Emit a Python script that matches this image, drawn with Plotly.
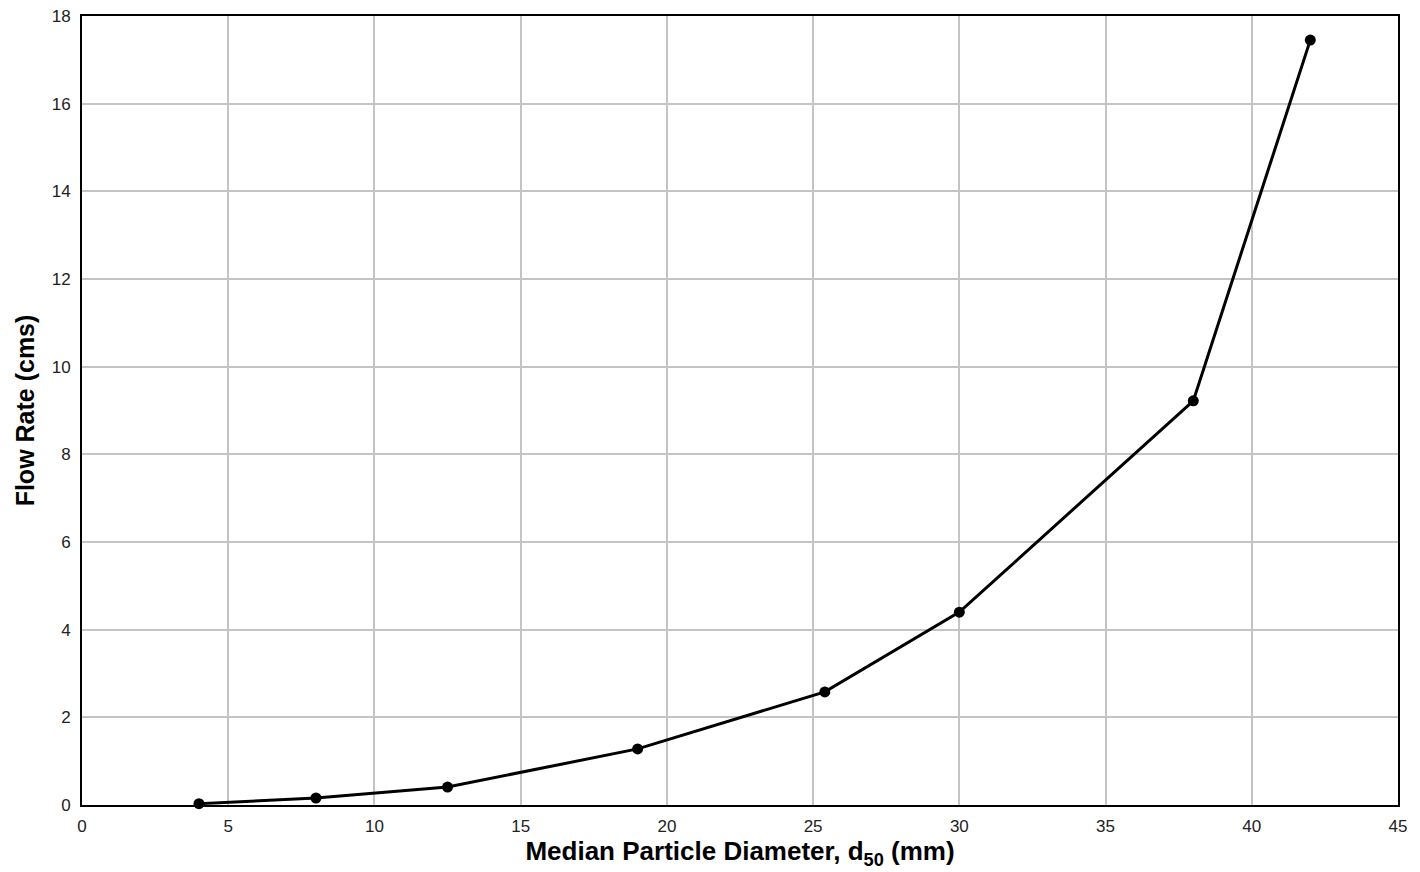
import plotly.graph_objects as go

# Median particle diameter (mm) and corresponding flow rate (cms)
d50_mm = [4, 8, 12.5, 19, 25.4, 30, 38, 42]
flow_cms = [0.03, 0.16, 0.41, 1.28, 2.58, 4.40, 9.22, 17.45]

x_ticks = [0, 5, 10, 15, 20, 25, 30, 35, 40, 45]
y_ticks = [0, 2, 4, 6, 8, 10, 12, 14, 16, 18]

fig = go.Figure()
fig.add_trace(go.Scatter(
    x=d50_mm, y=flow_cms,
    mode="lines+markers",
    line=dict(color="black", width=3),
    marker=dict(color="black", size=11),
    cliponaxis=False,
    showlegend=False,
))

axis_common = dict(
    showline=True, linecolor="black", linewidth=2, mirror=True,
    showgrid=True, gridcolor="#c4c4c4", gridwidth=2,
    zeroline=False, ticks="", automargin=False,
    tickfont=dict(family="Liberation Sans, Arial", size=17, color="#222"),
)

fig.update_xaxes(
    range=[0, 45], tickvals=x_ticks, ticktext=[str(v) for v in x_ticks],
    title=dict(text="<b>Median Particle Diameter, d<sub>50</sub> (mm)</b>",
               font=dict(family="Liberation Sans, Arial", size=26, color="black"),
               standoff=2),
    ticklabelstandoff=5,
    **axis_common,
)
fig.update_yaxes(
    range=[0, 18], tickvals=y_ticks, ticktext=[str(v) for v in y_ticks],
    title=dict(text="<b>Flow Rate (cms)</b>",
               font=dict(family="Liberation Sans, Arial", size=25, color="black"),
               standoff=10),
    ticklabelstandoff=6,
    **axis_common,
)

fig.update_layout(
    width=1420, height=872,
    margin=dict(l=82, r=22, t=16, b=67),
    paper_bgcolor="white", plot_bgcolor="white",
    font=dict(family="Liberation Sans, Arial"),
)

fig.write_html("out.html")
